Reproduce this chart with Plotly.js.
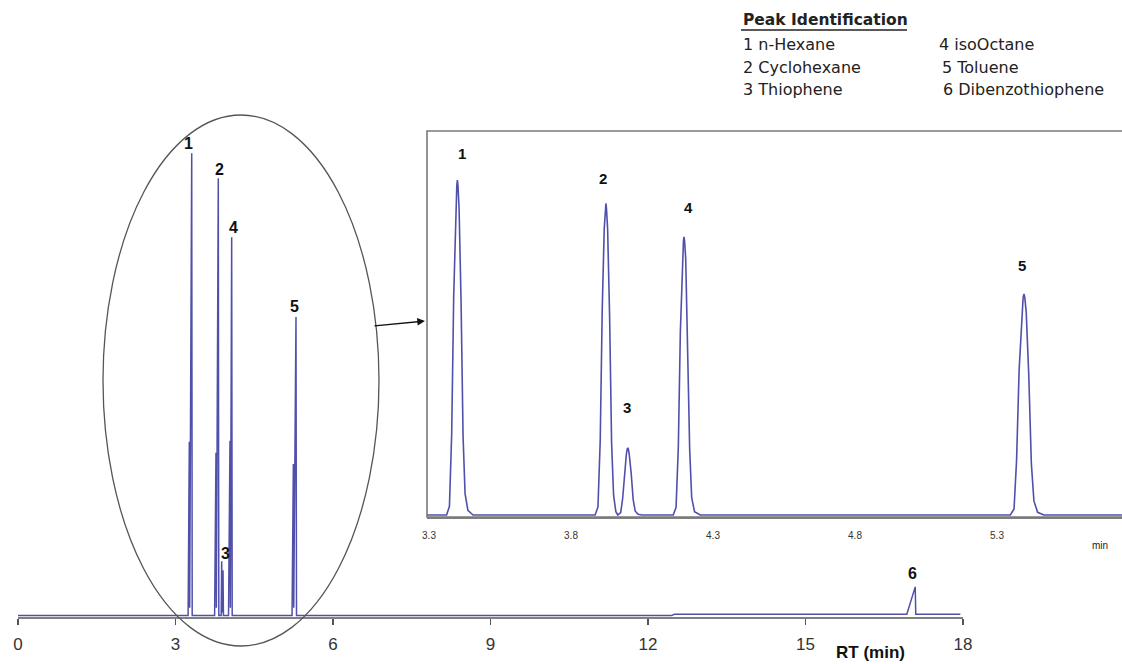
<!DOCTYPE html>
<html><head><meta charset="utf-8">
<script src="https://cdn.plot.ly/plotly-3.0.1.min.js"></script>
<style>html,body{margin:0;padding:0;background:#fff}#chart{width:1122px;height:664px}</style>
</head><body><div id="chart"></div>
<script>
// ---- data ----
const mainRT = [0,
  3.24, 3.263, 3.27, 3.309, 3.318,
  3.745, 3.771, 3.778, 3.815, 3.825,
  3.87, 3.88, 3.887, 3.905, 3.913,
  4.01, 4.038, 4.045, 4.07, 4.08,
  5.22, 5.245, 5.252, 5.295, 5.305,
  12.45, 12.5, 16.93, 17.09, 17.1, 17.95];
const mainSignal = [0.3,
  0.3, 37.8, 2, 100, 0.3,
  0.3, 35.4, 2, 94.6, 0.3,
  0.3, 12, 1, 10.1, 0.3,
  0.3, 38, 2, 81.9, 0.3,
  0.3, 33, 2, 64.7, 0.3,
  0.3, 0.6, 0.6, 6.5, 0.6, 0.6];

const insetRT = [3.293,
  3.362, 3.372, 3.380, 3.387, 3.394, 3.398, 3.400, 3.402, 3.406, 3.413, 3.420, 3.427, 3.437, 3.455,
  3.885, 3.895, 3.903, 3.910, 3.917, 3.921, 3.923, 3.925, 3.929, 3.936, 3.943, 3.950, 3.958,
  3.965, 3.975, 3.982, 3.989, 3.995, 3.998, 4.000, 4.002, 4.005, 4.012, 4.019, 4.026, 4.036, 4.05,
  4.160, 4.170, 4.178, 4.185, 4.192, 4.196, 4.198, 4.200, 4.204, 4.211, 4.218, 4.225, 4.235, 4.255,
  5.347, 5.360, 5.369, 5.378, 5.387, 5.392, 5.395, 5.398, 5.403, 5.412, 5.421, 5.430, 5.443, 5.465,
  5.74];
const insetSignal = [0.6,
  0.6, 3.2, 25, 66, 92, 99, 100.6, 99, 92, 64, 24, 7, 2, 0.6,
  0.6, 3, 23, 62, 86, 92, 93.6, 92, 86, 60, 22, 6.5, 1.6,
  0.6, 1.3, 5.6, 13.5, 18.8, 20.3, 20.6, 20.3, 18.8, 13, 5.2, 1.8, 0.8, 0.6,
  0.6, 2.9, 21, 55, 77, 82.4, 83.6, 82.4, 77, 53, 20, 5.8, 1.6, 0.6,
  0.6, 2.4, 17, 44, 61, 65.5, 66.6, 65.5, 61, 42, 16, 4.8, 1.4, 0.6,
  0.6];

const mainTicks = [0, 3, 6, 9, 12, 15, 18];
const insetTicks = [3.3, 3.8, 4.3, 4.8, 5.3];
const insetTickText = ['3.3', '3.8', '4.3', '4.8', '5.3'];
const peakIds = ['1', '2', '3', '4', '5', '6'];
const compounds = ['n-Hexane', 'Cyclohexane', 'Thiophene', 'isoOctane', 'Toluene', 'Dibenzothiophene'];

// ---- layout helpers (pixel -> paper) ----
const W = 1122, H = 664;
const px = x => x / W;
const py = y => 1 - y / H;

const lineColor = '#5050aa';
const traces = [
  {x: mainRT, y: mainSignal, xaxis: 'x', yaxis: 'y', mode: 'lines',
   line: {color: lineColor, width: 1.5}, hoverinfo: 'skip'},
  {x: insetRT, y: insetSignal, xaxis: 'x2', yaxis: 'y2', mode: 'lines',
   line: {color: lineColor, width: 1.6}, hoverinfo: 'skip'}
];

const boldFont = {family: 'Liberation Sans, Arial, sans-serif', size: 16, color: '#111'};
const insetBold = {family: 'Liberation Sans, Arial, sans-serif', size: 15, color: '#111'};
const legFont = {family: 'DejaVu Sans, sans-serif', size: 16, color: '#222'};

const ann = [];
function txt(x, y, text, font, extra) {
  ann.push(Object.assign({xref: 'paper', yref: 'paper', x: px(x), y: py(y), text: text,
    showarrow: false, font: font, xanchor: 'center', yanchor: 'middle'}, extra || {}));
}
// main peak labels
const mainLabelPos = [[188, 143], [219, 169], [225, 553], [233, 227], [294, 306], [912, 573]];
mainLabelPos.forEach((p, i) => txt(p[0], p[1], '<b>' + peakIds[i] + '</b>', boldFont));
// inset peak labels
const insetLabelPos = [[462, 153], [603, 178], [627, 407], [688, 207], [1022, 265]];
insetLabelPos.forEach((p, i) => txt(p[0], p[1], '<b>' + peakIds[i] + '</b>', insetBold));
// legend block
txt(741, 20, '<b>Peak Identification</b>', {family: 'DejaVu Sans, sans-serif', size: 15.5, color: '#222'}, {xanchor: 'left'});
const legPos = [[741, 45], [741, 67], [741, 89], [937, 45], [940, 67], [941, 89]];
legPos.forEach((p, i) => txt(p[0], p[1], peakIds[i] + ' ' + compounds[i], legFont, {xanchor: 'left'}));
// axis titles
txt(870, 652, '<b>RT (min)</b>', {family: 'Liberation Sans Narrow, Liberation Sans, Arial, sans-serif', size: 17, color: '#111'});
txt(1100, 545, 'min', {family: 'Liberation Sans Narrow, Liberation Sans, sans-serif', size: 10, color: '#222'});
// arrow from ellipse to inset
ann.push({xref: 'paper', yref: 'paper', x: px(425), y: py(321), ax: px(373), ay: py(326),
  axref: 'paper', ayref: 'paper', showarrow: true, arrowhead: 2, arrowsize: 1.1,
  arrowwidth: 1.4, arrowcolor: '#111', text: ''});

const shapes = [
  // zoom ellipse
  {type: 'circle', xref: 'paper', yref: 'paper', x0: px(103), x1: px(379), y0: py(115), y1: py(646),
   line: {color: '#555', width: 1.3}},
  // inset frame
  {type: 'rect', xref: 'paper', yref: 'paper', x0: px(427), x1: px(1140), y0: py(517), y1: py(131),
   line: {color: '#7a7a7a', width: 1.6}},
  // underline of legend heading
  {type: 'line', xref: 'paper', yref: 'paper', x0: px(741), x1: px(907), y0: py(30), y1: py(30),
   line: {color: '#222', width: 1.4}}
];

const layout = {
  width: W, height: H,
  margin: {l: 0, r: 0, t: 0, b: 0},
  paper_bgcolor: '#fff', plot_bgcolor: 'rgba(0,0,0,0)',
  showlegend: false,
  xaxis: {domain: [px(18), px(963)], range: [0, 18], anchor: 'y',
    showgrid: false, zeroline: false, showline: true, linecolor: '#808080', linewidth: 2,
    ticks: 'outside', ticklen: 6, tickwidth: 1.5, tickcolor: '#555',
    tickvals: mainTicks, ticktext: mainTicks.map(String), ticklabelstandoff: 5,
    tickfont: {family: 'Liberation Sans Narrow, Liberation Sans, Arial, sans-serif', size: 17, color: '#333'}},
  yaxis: {domain: [py(617), py(130)], range: [0, 105], visible: false, anchor: 'x'},
  xaxis2: {domain: [px(427), 1], range: [3.293, 3.293 + 695 / 284], anchor: 'y2',
    showgrid: false, zeroline: false, showline: true, linecolor: '#808080', linewidth: 2,
    ticks: '', tickvals: insetTicks, ticktext: insetTickText, ticklabelstandoff: 8,
    tickfont: {family: 'Liberation Sans Narrow, Liberation Sans, Arial, sans-serif', size: 10, color: '#333'}},
  yaxis2: {domain: [py(517), py(131)], range: [0, 386 / 3.35], visible: false, anchor: 'x2'},
  annotations: ann,
  shapes: shapes
};

Plotly.newPlot('chart', traces, layout, {displayModeBar: false, staticPlot: true});
</script>
</body></html>
